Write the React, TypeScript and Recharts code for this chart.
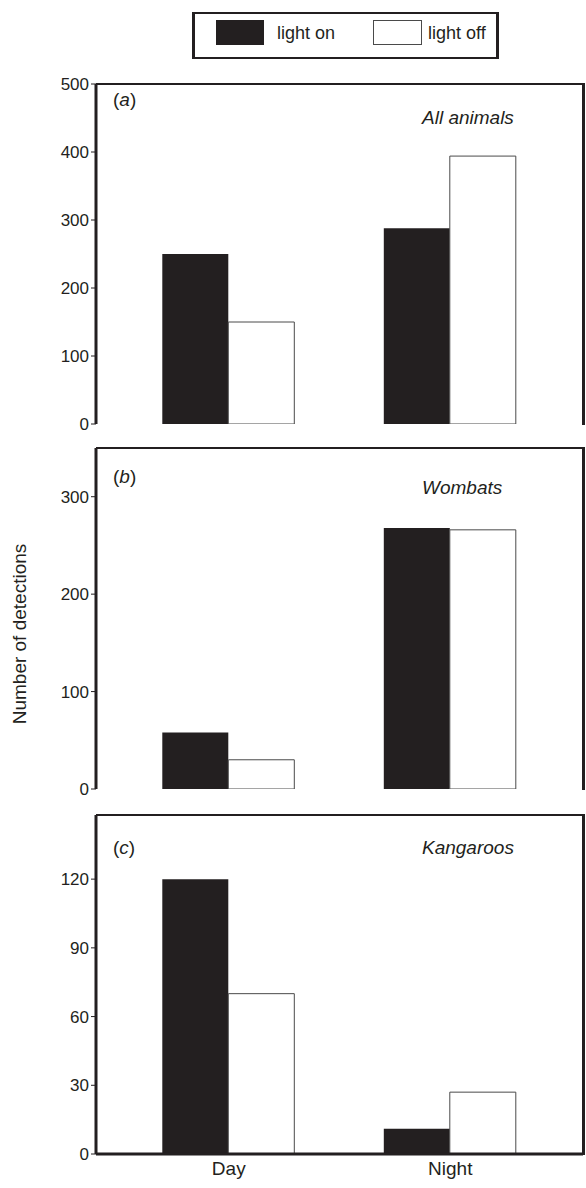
import React from "react";
import { BarChart, Bar, XAxis, YAxis } from "recharts";

const categories = ["Day", "Night"];
const seriesNames = ["light on", "light off"];

const allAnimalsOn = [250, 288];
const allAnimalsOff = [150, 394];
const wombatsOn = [58, 268];
const wombatsOff = [30, 266];
const kangaroosOn = [120, 11];
const kangaroosOff = [70, 27];

const ticksA = [0, 100, 200, 300, 400, 500];
const ticksB = [0, 100, 200, 300];
const ticksC = [0, 30, 60, 90, 120];

const yLabel = "Number of detections";
const panelTitles = ["All animals", "Wombats", "Kangaroos"];
const panelLetters = ["a", "b", "c"];

const INK = "#231f20";
const FONT = "'Liberation Sans', Arial, Helvetica, sans-serif";

const build = (on: number[], off: number[]) =>
  categories.map((c, i) => ({ cat: c, on: on[i], off: off[i] }));

type PanelProps = {
  data: { cat: string; on: number; off: number }[];
  ticks: number[];
  domain: [number, number];
  plotTop: number;
  plotH: number;
  showX: boolean;
};

const PLOT_LEFT = 96;
const PLOT_RIGHT = 583;

function Panel({ data, ticks, domain, plotTop, plotH, showX }: PanelProps) {
  const mt = 10;
  const xh = showX ? 34 : 0;
  const h = plotH + mt + 10 + xh;
  return (
    <>
      <div style={{ position: "absolute", left: 0, top: plotTop - mt }}>
        <BarChart
          width={586}
          height={h}
          data={data}
          margin={{ top: mt, right: 586 - PLOT_RIGHT, bottom: 10, left: 0 }}
          barCategoryGap="20%"
          barGap={0}
        >
          <XAxis
            dataKey="cat"
            padding={{ left: 22, right: 22 }}
            axisLine={{ stroke: INK, strokeWidth: 3 }}
            tickLine={false}
            tick={showX ? { fontSize: 19, fill: INK } : false}
            tickSize={4}
            tickMargin={4}
            height={xh}
          />
          <YAxis
            domain={domain}
            ticks={ticks}
            interval={0}
            allowDataOverflow
            width={PLOT_LEFT}
            axisLine={{ stroke: INK, strokeWidth: 3 }}
            tickLine={{ stroke: INK, strokeWidth: 1 }}
            tickSize={5}
            tickMargin={2}
            tick={{ fontSize: 17, fill: INK }}
          />
          <Bar dataKey="on" name={seriesNames[0]} fill={INK} isAnimationActive={false} />
          <Bar
            dataKey="off"
            name={seriesNames[1]}
            fill="#ffffff"
            stroke="#4a4a4a"
            strokeWidth={1}
            isAnimationActive={false}
          />
        </BarChart>
      </div>
      {/* frame: top and right edges of the plot area */}
      <div
        style={{
          position: "absolute",
          left: PLOT_LEFT,
          top: plotTop - 1,
          width: PLOT_RIGHT - PLOT_LEFT - 1,
          height: plotH,
          borderTop: `2.5px solid ${INK}`,
          borderRight: `3px solid ${INK}`,
          pointerEvents: "none",
        }}
      />
    </>
  );
}

const textStyle: React.CSSProperties = {
  position: "absolute",
  fontSize: 19,
  lineHeight: "22px",
  color: INK,
  whiteSpace: "nowrap",
};

export default function App() {
  const panels = [
    { data: build(allAnimalsOn, allAnimalsOff), ticks: ticksA, domain: [0, 500] as [number, number], plotTop: 84, plotH: 340, letterY: 100, titleY: 118 },
    { data: build(wombatsOn, wombatsOff), ticks: ticksB, domain: [0, 350] as [number, number], plotTop: 448, plotH: 341, letterY: 477, titleY: 488 },
    { data: build(kangaroosOn, kangaroosOff), ticks: ticksC, domain: [0, 148] as [number, number], plotTop: 815, plotH: 339, letterY: 848, titleY: 848 },
  ];
  return (
    <div
      style={{
        position: "absolute",
        left: 0,
        top: 0,
        width: 586,
        height: 1188,
        background: "#fff",
        fontFamily: FONT,
        overflow: "hidden",
      }}
    >
      {/* Legend */}
      <div
        style={{
          position: "absolute",
          left: 192,
          top: 12,
          width: 301,
          height: 43,
          border: `2px solid ${INK}`,
          borderLeftWidth: 3,
          borderRightWidth: 3,
        }}
      />
      <div style={{ position: "absolute", left: 216, top: 20, width: 48, height: 25, background: INK }} />
      <div style={{ ...textStyle, fontSize: 18, left: 277, top: 22 }}>{seriesNames[0]}</div>
      <div
        style={{
          position: "absolute",
          left: 373,
          top: 20,
          width: 47,
          height: 23,
          background: "#fff",
          border: "1px solid #4a4a4a",
        }}
      />
      <div style={{ ...textStyle, fontSize: 18, left: 428, top: 22 }}>{seriesNames[1]}</div>

      {panels.map((p, i) => (
        <React.Fragment key={i}>
          <Panel
            data={p.data}
            ticks={p.ticks}
            domain={p.domain}
            plotTop={p.plotTop}
            plotH={p.plotH}
            showX={i === 2}
          />
          <div style={{ ...textStyle, left: 113, top: p.letterY - 11 }}>
            (<i>{panelLetters[i]}</i>)
          </div>
          <div style={{ ...textStyle, left: 422, top: p.titleY - 11, fontStyle: "italic" }}>
            {panelTitles[i]}
          </div>
        </React.Fragment>
      ))}

      <div
        style={{
          ...textStyle,
          fontSize: 19,
          left: 20,
          top: 634,
          transform: "translate(-50%, -50%) rotate(-90deg)",
        }}
      >
        {yLabel}
      </div>
    </div>
  );
}
